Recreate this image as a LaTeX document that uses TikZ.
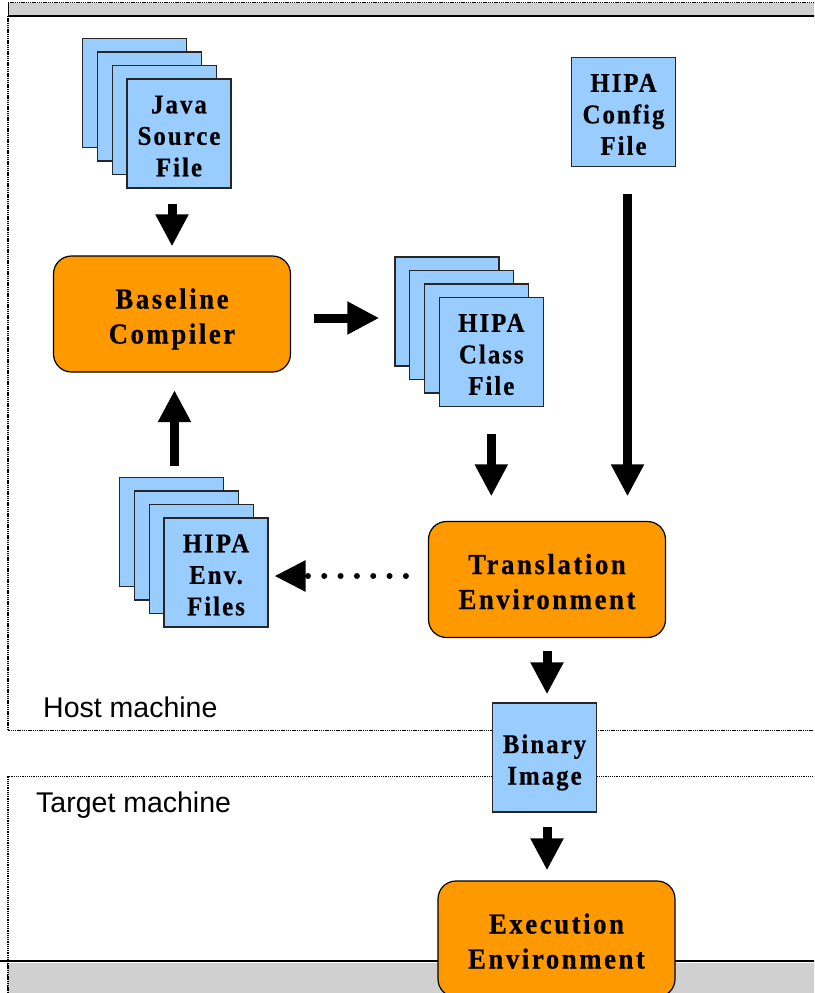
\documentclass[tikz,border=0pt]{standalone}
\usepackage{fontspec}
\setmainfont{Liberation Serif}
\newfontfamily\docfont[FakeStretch=0.92,LetterSpace=7.5,FakeBold=0.6]{Liberation Serif}
\newfontfamily\procfont[FakeStretch=0.92,LetterSpace=9,FakeBold=0.6]{Liberation Serif}
\newfontfamily\areafont{Liberation Sans}
\usetikzlibrary{arrows.meta}

\definecolor{fileblue}{RGB}{153,204,255}
\definecolor{procorange}{RGB}{255,153,0}
\definecolor{bandgray}{RGB}{208,208,208}

% centred lines of a box label, set a little below the box centre
\newcommand\boxlines[1]{\raisebox{-5pt}[\height][\depth]{\begin{tabular}{@{}c@{}}#1\end{tabular}}}

\tikzset{
  doc/.style={draw=black!85, line width=1.3pt, fill=fileblue,
    minimum width=104pt, minimum height=109pt, inner sep=0pt,
    font=\docfont\bfseries\fontsize{27}{31.5}\selectfont},
  proc/.style={draw=black, line width=1.2pt, fill=procorange,
    rounded corners=18pt, minimum width=237pt, minimum height=116pt,
    inner sep=0pt,
    font=\procfont\bfseries\fontsize{29}{35}\selectfont},
  flow/.style={line width=9pt, -{Triangle[length=32pt,width=31pt]}},
  dotflow/.style={line width=6pt, line cap=round, dash pattern=on 0pt off 16.33pt,
    -{Triangle[length=31pt,width=30pt]}},
  frame/.style={line width=1.3pt, dash pattern=on 1.3pt off 0.9pt},
  area/.style={font=\areafont\fontsize{28.5}{34}\selectfont, anchor=base west, inner sep=0pt},
}

\begin{document}
\begin{tikzpicture}[x=1pt,y=-1pt]
\useasboundingbox (0,0) rectangle (814,993);
\clip (0,0) rectangle (814,993);

% top band
\fill[bandgray] (8,3) rectangle (820,16);
\draw[frame] (8,2.5) -- (820,2.5);
\draw[line width=1pt] (8,2) -- (8,16);
\draw[line width=2pt] (8,16) -- (820,16);

% host machine frame
\draw[frame] (8,16) -- (8,730.5) -- (820,730.5);
% target machine frame
\draw[frame] (820,776.5) -- (8,776.5) -- (8,1000);

% bottom band
\fill[bandgray] (8,963) rectangle (820,1000);
\draw[line width=2pt] (0,961) -- (820,961);
\draw[frame] (8,963) -- (8,1000);

\node[area] (host) at (43,717) {Host machine};
\node[area] (target) at (36,812) {Target machine};

% Java source files
\node[doc] (java1) at (134.6,93) {};
\node[doc] (java2) at (149.4,106.5) {};
\node[doc] (java3) at (164.2,120) {};
\node[doc] (java4) at (179,133.5) {\boxlines{Java\\Source\\File}};

% HIPA config file
\node[doc] (config) at (623.5,112) {\boxlines{HIPA\\Config\\File}};

% HIPA class files
\node[doc] (class1) at (446.9,311.5) {};
\node[doc] (class2) at (461.7,325) {};
\node[doc] (class3) at (476.5,338.5) {};
\node[doc] (class4) at (491.3,352) {\boxlines{HIPA\\Class\\File}};

% HIPA environment files
\node[doc] (env1) at (171.6,532) {};
\node[doc] (env2) at (186.4,545.5) {};
\node[doc] (env3) at (201.2,559) {};
\node[doc] (env4) at (216,572.5) {\boxlines{HIPA\\Env.\\Files}};

% processing stages
\node[proc] (base) at (172,314) {\boxlines{Baseline\\Compiler}};
\node[proc] (trans) at (547,579.5) {\boxlines{Translation\\Environment}};
\node[doc] (binary) at (544.5,757.5) {\boxlines{Binary\\Image}};
\node[proc] (exec) at (556.5,939) {\boxlines{Execution\\Environment}};

% connectors
\draw[flow, shorten <=15pt, shorten >=9pt] (base.north |- java4.south) -- (base.north);
\draw[flow, shorten <=22.5pt, shorten >=15pt] ([yshift=-4pt]base.east) -- ([yshift=-4pt]class1.west |- base.east);
\draw[flow, shorten <=26.5pt, shorten >=24.5pt] (class4.south) -- (trans.north -| class4.south);
\draw[flow, shorten <=26.5pt, shorten >=24.5pt] ([xshift=4pt]config.south) -- ([xshift=4pt]trans.north -| config.south);
\draw[flow, shorten <=10.5pt, shorten >=17.5pt] ([xshift=2.5pt]env1.north -| base.south) -- ([xshift=2.5pt]base.south);
\draw[dotflow, shorten <=22pt, shorten >=6pt] ([yshift=3.5pt]trans.west) -- ([yshift=3.5pt]env4.east |- trans.west);
\draw[flow, shorten <=12.5pt, shorten >=8pt] (trans.south) -- (trans.south |- binary.north);
\draw[flow, shorten <=14pt, shorten >=10pt] (binary.south -| trans.south) -- (exec.north -| trans.south);
\end{tikzpicture}
\end{document}
